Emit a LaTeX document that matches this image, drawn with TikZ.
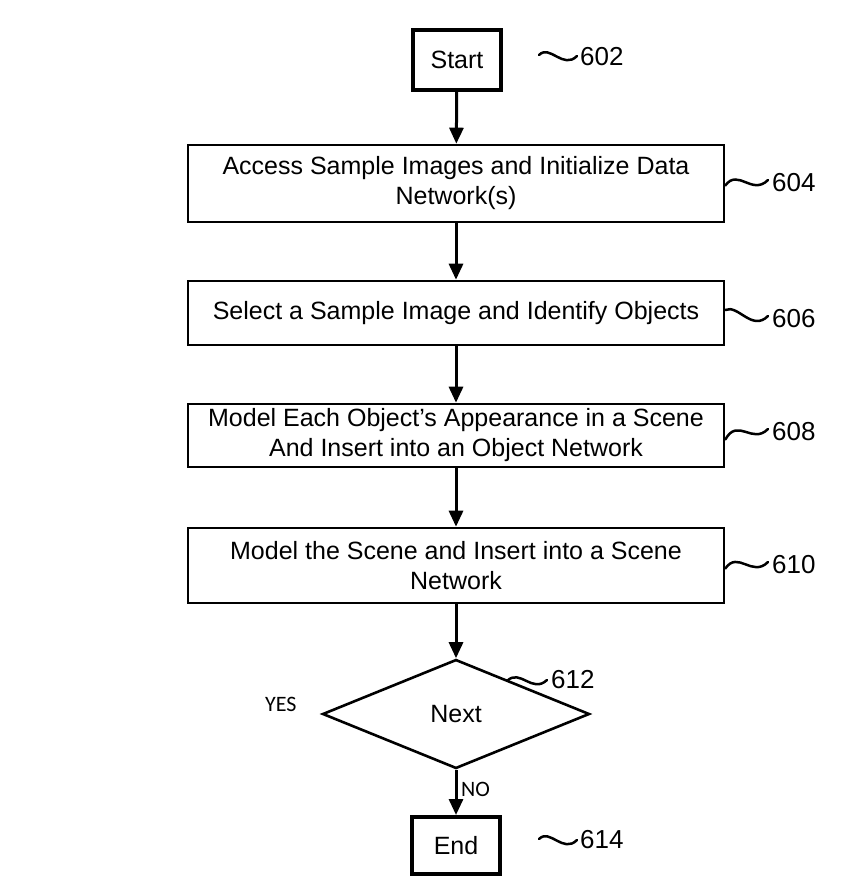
\documentclass[tikz,border=0pt]{standalone}
\usepackage{fontspec}
\setmainfont{Liberation Sans}
\newfontfamily\yesnofont{Carlito}
\usetikzlibrary{shapes.geometric,arrows.meta}
\begin{document}
\begin{tikzpicture}[x=1pt,y=-1pt,
  procbox/.style={draw,line width=2.6pt,minimum width=536pt,inner sep=0pt,align=center,font=\fontsize{25}{30}\selectfont},
  termbox/.style={draw,line width=4pt,minimum width=88pt,inner sep=0pt,font=\fontsize{25}{28}\selectfont},
  flow/.style={line width=3pt,-{Triangle[length=16pt,width=14pt]}},
  reftext/.style={font=\fontsize{26}{28}\selectfont,anchor=west,inner sep=0pt},
  yesno/.style={font=\yesnofont\fontsize{22}{24}\selectfont,anchor=west,inner sep=0pt},
  wave/.style={line width=2.5pt,line cap=round}]
\useasboundingbox (0,0) rectangle (864,896);
\node[termbox,minimum height=60pt] (start) at (457,60) {Start};
\node[procbox,minimum height=77pt] (b604) at (456,183.5) {Access Sample Images and Initialize Data\\Network(s)};
\node[procbox,minimum height=64pt] (b606) at (456,313) {Select a Sample Image and Identify Objects};
\node[procbox,minimum height=63pt] (b608) at (456,435.5) {Model Each Object’s Appearance in a Scene\\And Insert into an Object Network};
\node[procbox,minimum height=75pt] (b610) at (456,565.5) {Model the Scene and Insert into a Scene\\Network};
\node[draw,diamond,line width=2.6pt,minimum width=267pt,minimum height=109pt,inner sep=0pt,font=\fontsize{25}{28}\selectfont] (dec) at (456,714) {Next};
\node[termbox,minimum height=57pt] (end) at (456,845.5) {End};
\draw[flow] (start) -- (b604);
\draw[flow] (b604) -- (b606);
\draw[flow] (b606) -- (b608);
\draw[flow] (b608) -- (b610);
\draw[flow] (b610) -- (dec);
\draw[flow] (dec) -- (end);
\node[yesno] (no) at (461,789) {NO};
\node[yesno] (yes) at (265,704) {YES};
% reference numerals
\coordinate (w602a) at (539,55);
\coordinate (w602b) at (577,56);
\draw[wave] (w602a) .. controls (550,44) and (563,70) .. (w602b);
\node[reftext] (r602) at (580,57) {602};
\coordinate (w604a) at ([yshift=-2pt]b604.east);
\coordinate (w604b) at (768,180);
\draw[wave] (w604a) .. controls (738,168) and (752,196) .. (w604b);
\node[reftext] (r604) at (772,183) {604};
\coordinate (w606a) at ([yshift=3pt]b606.east);
\coordinate (w606b) at (768,316);
\draw[wave] (w606a) .. controls (738,304) and (752,332) .. (w606b);
\node[reftext] (r606) at (772,319) {606};
\coordinate (w608a) at ([yshift=-4pt]b608.east);
\coordinate (w608b) at (768,429);
\draw[wave] (w608a) .. controls (738,417) and (752,445) .. (w608b);
\node[reftext] (r608) at (772,432) {608};
\coordinate (w610a) at ([yshift=-3pt]b610.east);
\coordinate (w610b) at (768,562);
\draw[wave] (w610a) .. controls (738,550) and (752,578) .. (w610b);
\node[reftext] (r610) at (772,565) {610};
\coordinate (w612a) at (507,681);
\coordinate (w612b) at (547,680);
\draw[wave] (w612a) .. controls (520,668) and (532,694) .. (w612b);
\node[reftext] (r612) at (551,680) {612};
\coordinate (w614a) at (539,839);
\coordinate (w614b) at (577,840);
\draw[wave] (w614a) .. controls (550,828) and (563,854) .. (w614b);
\node[reftext] (r614) at (580,840) {614};
\end{tikzpicture}
\end{document}
